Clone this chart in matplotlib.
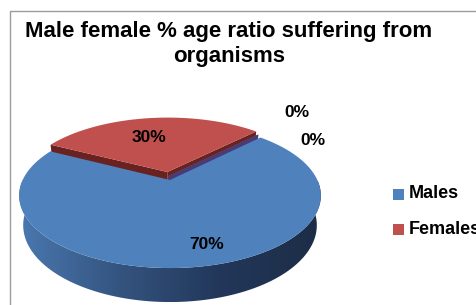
import numpy as np
import matplotlib.pyplot as plt
from matplotlib.patches import Polygon, Rectangle
from matplotlib.colors import LinearSegmentedColormap

plt.rcParams['font.family'] = ['Liberation Sans', 'DejaVu Sans']

# chart data
title_lines = ['Male female % age ratio suffering from', 'organisms']
categories = ['Males', 'Females', '', '']
values = [70, 30, 0, 0]

# style
top_colors = ['#4F81BD', '#C0504D', '#9BBB59', '#8064A2']
face_colors = ['#2E4A70', '#6A2220', '#5C7A30', '#4B3A78']
side_ramps = [['#4A78B0', '#34547F', '#22375A', '#1C2D45'],
              ['#7A2A28', '#5A1C1A'], ['#6E8C3C', '#4C6428'], ['#5E4A8A', '#3E3064']]
explode = [0.0, 0.12, 0.0, 0.0]
label_radius = [0.8, 0.6, 1.0, 1.0]
label_turn = [6, 5, 0, 0]
label_nudge = [(0, 0), (0, 0), (36, 25), (52, -3)]

# fake 3d camera, everything in pixel coords
CX, CY = 170, 180
FOCAL, DIST = 607, 4.12
TILT = np.radians(28)
HEIGHT = 0.23
START = 45.0


def project(x, y, z=0.0):
    s, c = np.sin(TILT), np.cos(TILT)
    v = y * s + z * c
    w = y * c - z * s
    return CX + FOCAL * x / (DIST + w), CY - FOCAL * v / (DIST + w)


def poly(xs, ys, zs):
    X, Y = project(np.asarray(xs, float), np.asarray(ys, float),
                   np.asarray(zs, float))
    return np.column_stack([X, Y])


def wall(ang, off):
    r = np.radians(ang)
    return poly(np.array([0, np.cos(r), np.cos(r), 0]) + off[0],
                np.array([0, np.sin(r), np.sin(r), 0]) + off[1],
                [0, 0, -HEIGHT, -HEIGHT])


def faces_camera(nx, ny, off):
    # camera sits at (0, -D cos, D sin) in pie coords
    cam_y = -DIST * np.cos(TILT)
    return nx * (0 - off[0]) + ny * (cam_y - off[1]) > 0


fig = plt.figure(figsize=(4.77, 3.05), dpi=100)
ax = fig.add_axes([0, 0, 1, 1])
ax.set_xlim(0, 477)
ax.set_ylim(305, 0)
ax.axis('off')

# chart border
ax.plot([10, 10, 477], [305, 11, 11], color='#9C9C9C', lw=1.0)

total = float(sum(values))
slices = []
a = START
for i, v in enumerate(values):
    span = 360.0 * v / total
    mid = np.radians(a - span / 2)
    off = (explode[i] * np.cos(mid), explode[i] * np.sin(mid))
    slices.append((i, a, a - span, off))
    a -= span

# paint far slices first
order = sorted(slices, key=lambda s: -(np.sin(np.radians((s[1] + s[2]) / 2)) + s[3][1]))
red_off = slices[1][3]

for i, a0, a1, off in order:
    if values[i] == 0:
        # zero slices only show a thin wall between the other two
        half = (0.5 * red_off[0], 0.5 * red_off[1])
        ax.add_patch(Polygon(wall(a1, half), closed=True,
                             fc=face_colors[i], ec='none'))
        continue

    # radial walls
    for ang, sign in ((a0, 1), (a1, -1)):
        r = np.radians(ang)
        nx, ny = -sign * np.sin(r), sign * np.cos(r)
        if faces_camera(nx, ny, off):
            ax.add_patch(Polygon(wall(ang, off), closed=True,
                                 fc=face_colors[i], ec='none'))

    # curved wall, front half only, shaded left to right
    ts = np.linspace(a0, a1, 400)
    front = ts[np.sin(np.radians(ts)) < 0]
    if len(front) > 1:
        r = np.radians(front)
        xs = np.cos(r) + off[0]
        ys = np.sin(r) + off[1]
        upper = poly(xs, ys, np.zeros_like(xs))
        lower = poly(xs, ys, np.full_like(xs, -HEIGHT))
        pts = np.vstack([upper, lower[::-1]])
        band = Polygon(pts, closed=True, fc='none', ec='none')
        ax.add_patch(band)
        cmap = LinearSegmentedColormap.from_list('side%d' % i, side_ramps[i])
        x0, x1 = pts[:, 0].min(), pts[:, 0].max()
        y0, y1 = pts[:, 1].min(), pts[:, 1].max()
        grad = np.linspace(0, 1, 256)[None, :]
        if x1 < x0 + 1:
            x1 = x0 + 1
        im = ax.imshow(grad, cmap=cmap, aspect='auto', extent=(x0, x1, y1, y0),
                       interpolation='bilinear', zorder=band.get_zorder())
        im.set_clip_path(band)
        ax.set_xlim(0, 477)
        ax.set_ylim(305, 0)

    # top face
    t = np.radians(np.linspace(a0, a1, 200))
    xs = np.concatenate([[0], np.cos(t)]) + off[0]
    ys = np.concatenate([[0], np.sin(t)]) + off[1]
    ax.add_patch(Polygon(poly(xs, ys, np.zeros_like(xs)), closed=True,
                         fc=top_colors[i], ec='none', zorder=1.5))

# percentage labels
for i, a0, a1, off in slices:
    mid = np.radians((a0 + a1) / 2 + label_turn[i])
    rr = label_radius[i]
    X, Y = project(rr * np.cos(mid) + off[0], rr * np.sin(mid) + off[1], 0.0)
    ax.annotate('%d%%' % round(100 * values[i] / total), xy=(X, Y),
                xytext=label_nudge[i], textcoords='offset pixels',
                ha='center', va='center', fontsize=12.5, fontweight='bold',
                zorder=3)

# title
for k, line in enumerate(title_lines):
    ax.text(229, 37 + 25 * k, line, ha='center', va='baseline',
            fontsize=16, fontweight='bold')

# legend
n = 0
for i, name in enumerate(categories):
    if not name:
        continue
    y = 194 + 35 * n
    ax.add_patch(Rectangle((393, y - 5.5), 11, 11, fc=top_colors[i], ec='none'))
    ax.text(409, y, name, ha='left', va='center', fontsize=13, fontweight='bold')
    n += 1

fig.savefig('out.png', dpi=100)
